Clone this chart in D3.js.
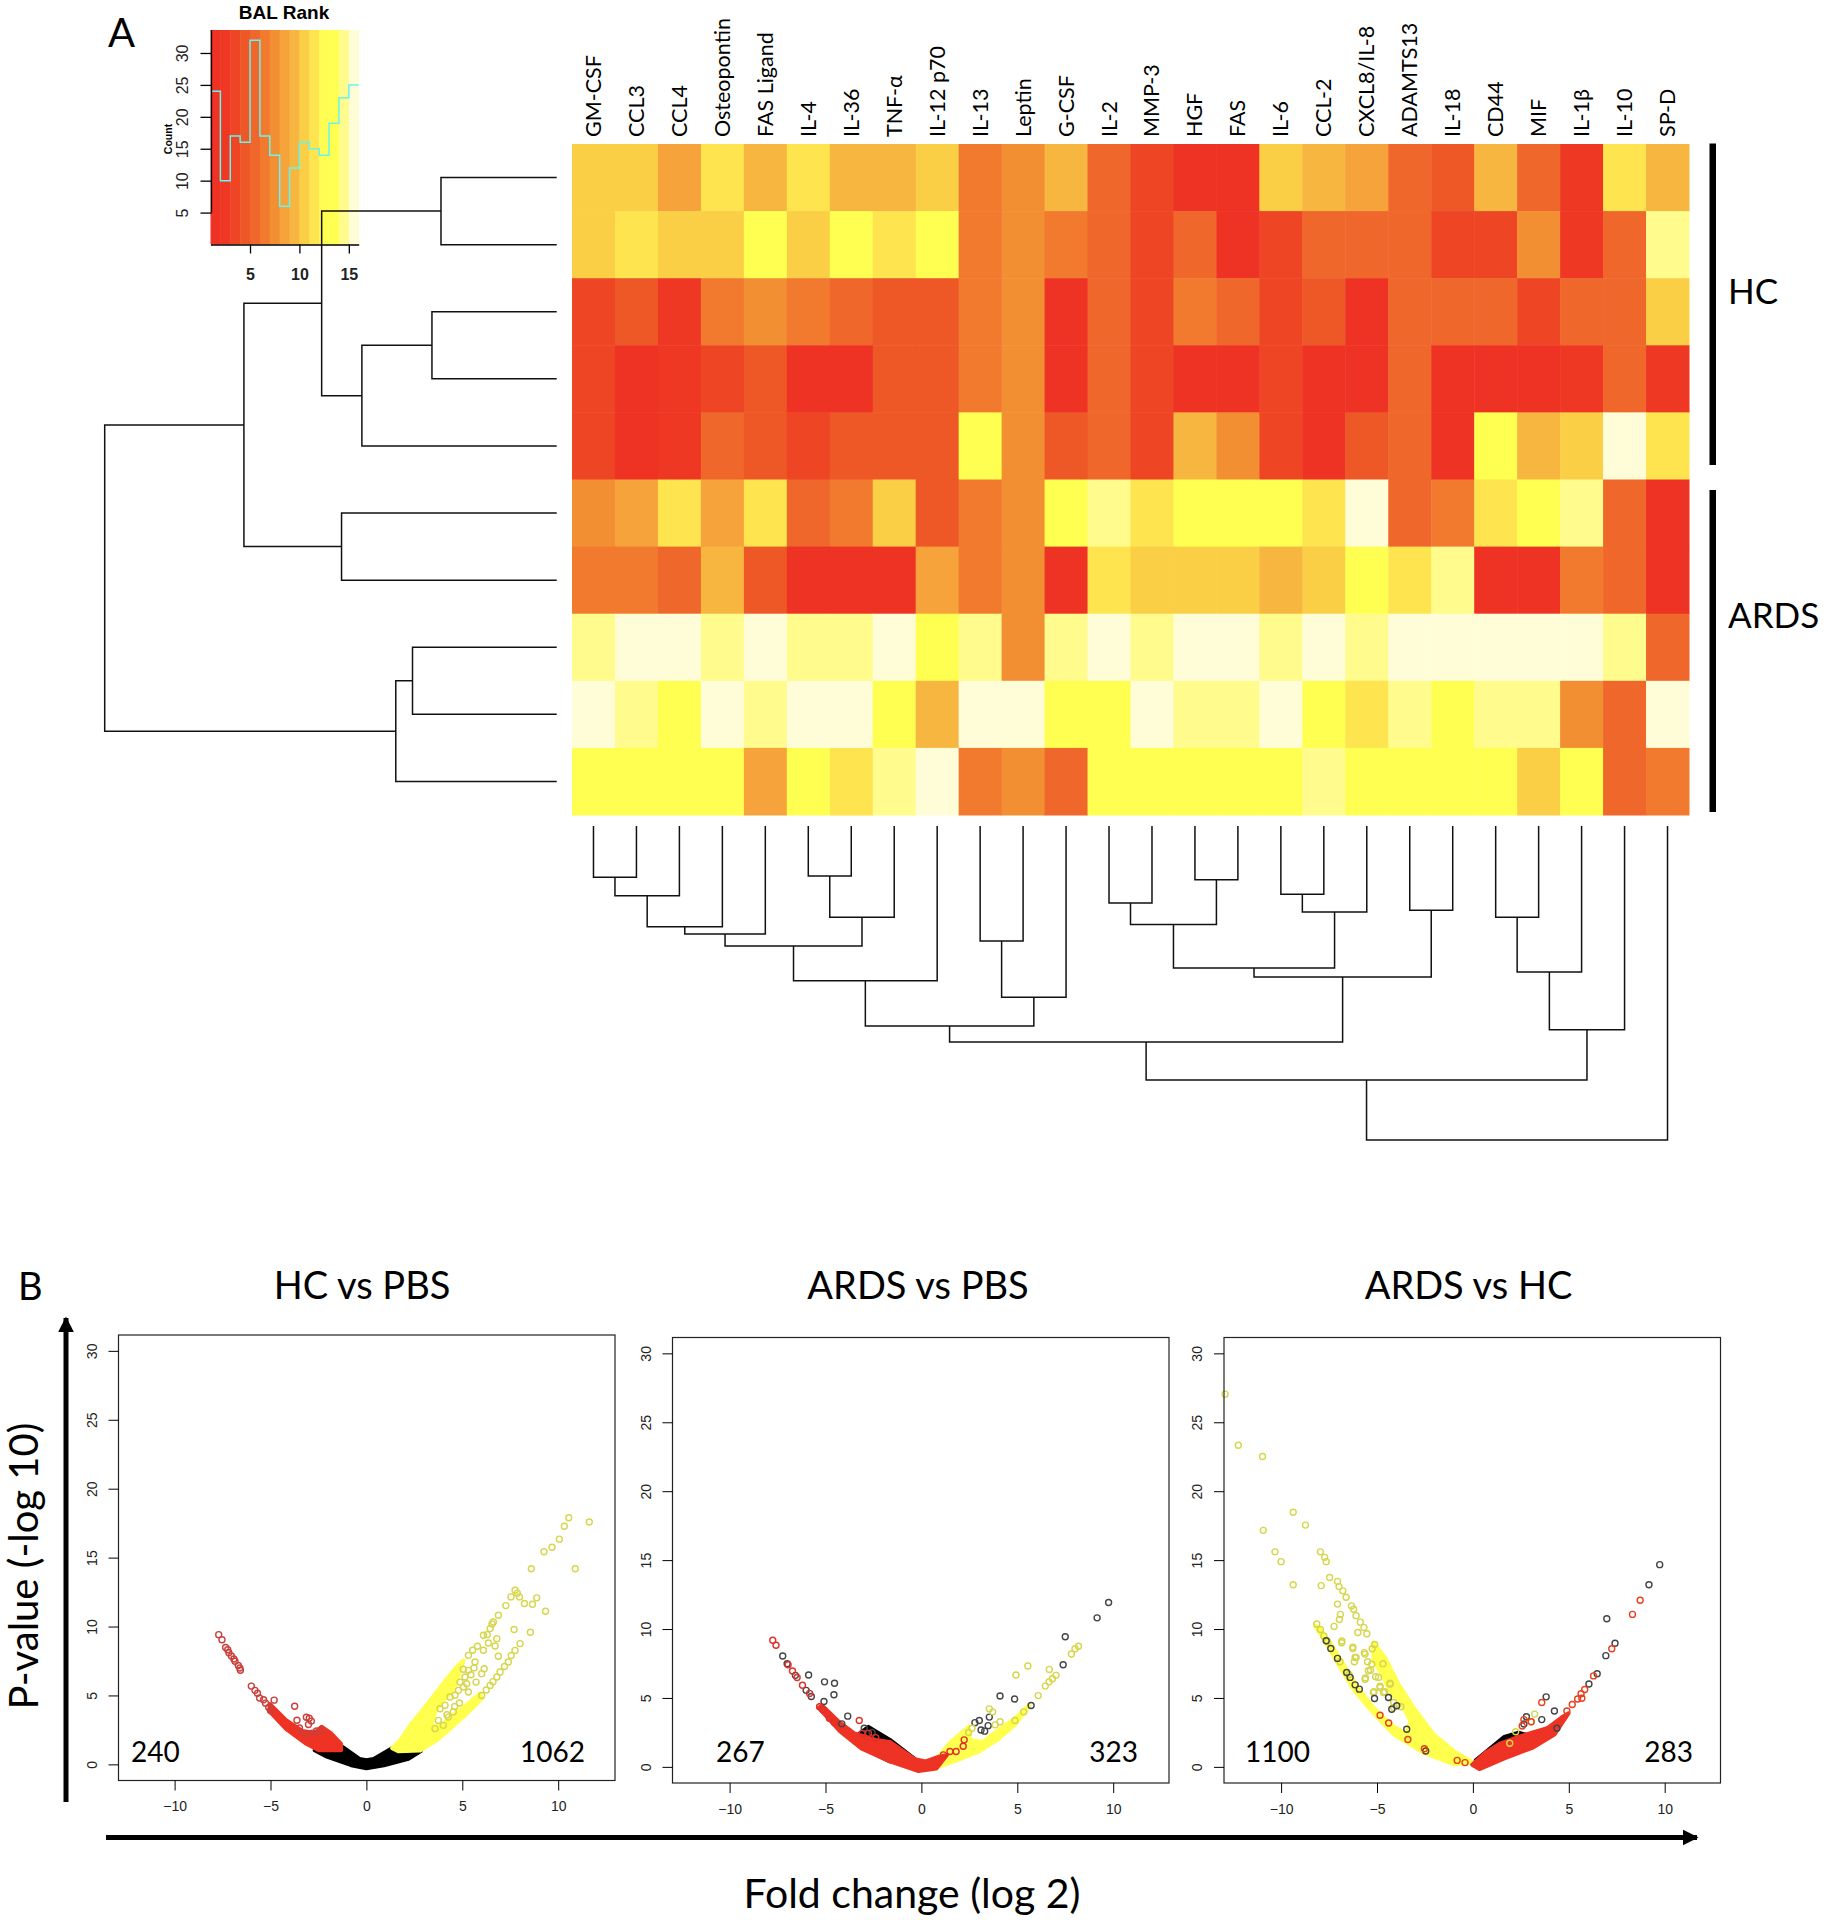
<!DOCTYPE html>
<html>
<head>
<meta charset="utf-8">
<script src="https://cdn.jsdelivr.net/npm/d3@7"></script>
<style>
  body { margin: 0; background: #fff; }
  svg { display: block; }
</style>
</head>
<body>
<div id="vis"></div>
<script>
// heatmap labels and values (colour key level of each cell, 0 = red ... 14 = pale)
const markers = ["GM-CSF", "CCL3", "CCL4", "Osteopontin", "FAS Ligand", "IL-4", "IL-36", "TNF-α", "IL-12 p70", "IL-13", "Leptin", "G-CSF", "IL-2", "MMP-3", "HGF", "FAS", "IL-6", "CCL-2", "CXCL8/IL-8", "ADAMTS13", "IL-18", "CD44", "MIF", "IL-1β", "IL-10", "SP-D"];
const rankRows = [
  [9, 9, 7, 10, 8, 10, 8, 8, 9, 5, 6, 8, 4, 2, 0, 0, 9, 8, 7, 4, 3, 8, 4, 1, 10, 8],
  [9, 10, 9, 9, 12, 9, 12, 10, 12, 5, 6, 5, 4, 2, 4, 0, 2, 4, 4, 4, 2, 2, 6, 1, 4, 13],
  [2, 3, 1, 5, 6, 5, 4, 3, 3, 5, 6, 0, 4, 2, 5, 4, 2, 3, 0, 4, 4, 4, 2, 4, 4, 9],
  [2, 0, 1, 2, 3, 0, 0, 3, 3, 5, 6, 0, 4, 2, 0, 0, 2, 0, 0, 4, 0, 0, 0, 1, 4, 1],
  [2, 0, 1, 4, 3, 2, 3, 3, 3, 12, 6, 3, 4, 2, 8, 6, 2, 0, 3, 4, 0, 12, 8, 9, 14, 10],
  [6, 7, 10, 7, 10, 4, 5, 9, 3, 5, 6, 12, 13, 10, 12, 12, 12, 10, 14, 4, 5, 10, 12, 13, 4, 0],
  [5, 5, 4, 8, 3, 0, 0, 0, 7, 5, 6, 0, 10, 9, 9, 9, 8, 9, 12, 10, 13, 0, 0, 5, 4, 0],
  [13, 14, 14, 13, 14, 13, 13, 14, 12, 13, 6, 13, 14, 13, 14, 14, 13, 14, 13, 14, 14, 14, 14, 14, 13, 4],
  [14, 13, 12, 14, 13, 14, 14, 12, 8, 14, 14, 12, 12, 14, 13, 13, 14, 12, 10, 13, 12, 13, 13, 6, 4, 14],
  [12, 12, 12, 12, 7, 12, 10, 13, 14, 5, 6, 4, 12, 12, 12, 12, 12, 13, 12, 12, 12, 12, 9, 12, 4, 5]
];
const rankColors = ["#ee3224", "#ee3824", "#ee4525", "#ee5726", "#ef672a", "#f17a2e", "#f38f33", "#f5a33a", "#f7b63f", "#fbcf45", "#fee44e", "#fffd53", "#ffff52", "#fffb8c", "#fffdd8"];

// colour key histogram
const rankCounts = [24, 10, 17, 16, 32, 17, 14, 6, 12, 16, 15, 14, 19, 23, 25];
const keyCountTicks = [5, 10, 15, 20, 25, 30];
const keyRankTicks = [5, 10, 15];

// dendrograms: [left, right, height], a plain number is a leaf
const rowTree = [[[[0, 1, 25.6], [[2, 3, 27.6], 4, 43.1], 52], [5, 6, 47.6], 69.2], [[7, 8, 31.9], 9, 35.6], 100];
const colTreeLeft = [[[[[[[0, 1, 16.3], 2, 22.2], 3, 32.1], 4, 34.4], [[5, 6, 15.9], 7, 29.1], 38.2], 8, 49.3], [[9, 10, 36.6], 11, 54.5], 63.7];
const colTreeMiddle = [[[[12, 13, 24.5], [14, 15, 17.1], 31.4], [[16, 17, 21.7], 18, 27.4], 45.2], [19, 20, 26.8], 48.1];
const colTreeRight = [[[21, 22, 29.1], 23, 46.5], 24, 64.9];
const colTree = [[[colTreeLeft, colTreeMiddle, 68.8], colTreeRight, 80.9], 25, 100];

// volcano plots, HC vs PBS
const hcRedDots = [[-7.7, 9.41], [-7.53, 9.04], [-7.34, 8.48], [-7.23, 8.32], [-7.17, 8.1], [-7.04, 7.86], [-6.91, 7.64], [-6.85, 7.48], [-6.68, 7.17], [-6.6, 6.99], [-6.57, 6.83], [-6, 5.68], [-5.81, 5.37], [-5.68, 5.16], [-5.57, 4.81], [-5.36, 4.69], [-5.26, 4.44], [-5.09, 4.13], [-5, 3.91], [-4.81, 4.66], [-3.74, 4.22], [-3.62, 3.2], [-3.49, 2.64], [-3.13, 3.42], [-2.98, 3.35], [-2.87, 3.14], [-3.02, 2.89], [-2.34, 2.52], [-3.23, 2.2], [-2.6, 2.42], [-2.81, 2.27]];
const hcYellowDots = [[11.62, 17.58], [10.55, 17.89], [10.32, 17.27], [10.06, 16.34], [9.68, 15.75], [9.26, 15.43], [8.6, 14.19], [10.89, 14.19], [3.84, 4.04], [4.1, 4.28], [4.36, 4.89], [4.62, 5.01], [4.85, 4.45], [4.53, 3.8], [4.27, 3.43], [3.75, 3.19], [4.01, 2.83], [3.58, 2.59], [4.8, 5.37], [5.06, 5.61], [5.32, 5.25], [5.23, 5.85], [4.88, 5.97], [5.14, 6.34], [5.32, 6.82], [5.72, 5.97], [6.01, 6.58], [6.14, 6.94], [5.61, 7], [5.66, 7.43], [5.32, 7.91], [5.54, 8.28], [5.79, 8.57], [6.1, 8.28], [6.36, 8.81], [6.1, 9.37], [6.45, 9.85], [6.62, 10.33], [6.88, 10.82], [6.8, 9.12], [6.71, 8.59], [6.88, 7.84], [7.7, 9.78], [8.55, 9.58], [8.01, 8.76], [7.75, 8.27], [7.4, 7.43], [6.97, 6.7], [6.8, 6.34], [6.45, 5.73], [6.01, 5], [7.27, 11.52], [7.75, 12.63], [7.54, 12.15], [7.98, 12.15], [8.24, 11.67], [8.66, 11.62], [8.88, 12.08], [9.34, 11.11], [7.87, 12.42], [6.55, 10.19], [6.3, 9.41], [7.55, 7.9], [7.2, 7.1], [6.6, 6], [6.25, 5.4], [5.45, 6.5], [5.05, 6.9], [4.6, 4.2], [4.2, 3.6]];
const hcBlackDots = [];
const hcBlackMass = [[-2.7, 1.02], [-1.32, 1.34], [-0.36, 0.4], [0, 0.31], [0.38, 0.4], [1.34, 1.18], [1.66, 0.96], [2.83, 0.96], [2.19, 0.4], [0.91, -0.06], [0, -0.28], [-0.79, -0.06], [-2.06, 0.56]];
const hcRedMass = [[-5.04, 3.82], [-4.19, 2.58], [-3.13, 1.49], [-2.49, 1.02], [-1.32, 1.02], [-1.32, 1.49], [-1.85, 2.27], [-2.34, 2.73], [-2.7, 2.27], [-3.34, 2.42], [-4.19, 3.2], [-5.04, 4.38]];
const hcYellowMass = [[1.34, 1.18], [1.75, 1.74], [2.4, 3.04], [3.06, 4.16], [4, 5.85], [4.62, 6.94], [5.06, 7.55], [4.62, 5.61], [4.19, 4.89], [3.67, 4.04], [3.32, 2.71], [4.01, 2.95], [4.71, 3.8], [5.4, 4.52], [5.93, 5.13], [6.01, 4.76], [5.23, 3.67], [4.36, 2.58], [3.66, 1.74], [2.8, 1.01], [1.66, 0.96]];

// ARDS vs PBS
const apRedDots = [[-7.75, 9.19], [-7.58, 8.82], [-6.95, 7.41], [-6.72, 6.95], [-6.48, 6.48], [-6.2, 5.92], [-5.83, 5.33], [-5.31, 4.36], [-5.14, 4.14], [-4.8, 3.52], [-4.53, 3.21], [-3.24, 3.36], [-3.09, 2.43], [-2.76, 2.43], [-2.38, 2.12], [1.15, 0.87], [1.49, 1.12], [1.81, 1.12], [2.18, 1.5], [2.23, 1.96]];
const apBlackDots = [[-7.23, 8.04], [-7, 7.48], [-5.88, 6.67], [-5.05, 6.17], [-4.53, 6.07], [-4.56, 5.23], [-5.08, 4.74], [-5.74, 5.11], [-6.01, 5.55], [-6.57, 6.64], [-3.84, 3.68], [-4.15, 3.12], [-2.98, 2.8], [-2.57, 2.49], [9.76, 11.93], [9.16, 10.81], [7.5, 9.44], [7.39, 7.41], [4.1, 5.14], [4.86, 4.92], [3.02, 3.36], [2.79, 3.21], [3.54, 3.61], [3.48, 2.99], [3.11, 2.68], [3.3, 2.59], [5.72, 4.45]];
const apYellowDots = [[8.19, 8.75], [8.01, 8.57], [7.82, 8.19], [5.55, 7.32], [4.93, 6.67], [6.67, 7.07], [7.02, 6.64], [6.83, 6.39], [6.65, 6.17], [6.46, 5.86], [6.09, 5.17], [3.54, 4.21], [3.72, 3.99], [4.1, 3.27], [3.85, 3.05], [2.64, 2.8], [2.46, 2.49], [4.88, 3.36], [5.34, 3.99]];
const apBlackMass = [[-2.76, 2.9], [-1.64, 1.96], [-0.34, 0.56], [0.04, 0.09], [-1.64, 0.4], [-2.76, 1.18], [-3.5, 2.12]];
const apRedMass = [[-5.36, 4.3], [-4.25, 2.59], [-3.13, 1.34], [-1.64, 0.4], [-0.15, -0.31], [0.78, -0.12], [1.34, 0.87], [0.88, 0.72], [0.22, 0.4], [-0.34, 0.56], [-1.64, 1.81], [-2.38, 1.96], [-2.76, 2.12], [-3.5, 2.43], [-4.25, 3.21], [-5.18, 4.45]];
const apYellowMass = [[0.78, 0.56], [1.53, 1.81], [2.46, 2.9], [2.55, 1.96], [3.2, 1.81], [3.95, 2.59], [4.88, 3.52], [5.62, 4.45], [4.88, 3.05], [3.95, 1.96], [3.02, 1.12], [1.71, 0.4], [0.6, -0.12]];

// ARDS vs HC
const ahYellowDots = [[-12.92, 27.04], [-12.23, 23.33], [-10.97, 22.52], [-9.37, 18.47], [-8.73, 17.54], [-10.93, 17.16], [-10.32, 15.6], [-10, 14.89], [-9.37, 13.21], [-7.95, 15.6], [-7.73, 15.2], [-7.65, 14.89], [-7.47, 13.74], [-7.91, 13.15], [-7.06, 13.46], [-6.98, 13.08], [-6.78, 12.77], [-6.61, 12.31], [-7.06, 11.81], [-6.33, 11.68], [-6.22, 11.43], [-6.09, 10.97], [-6.91, 11.06], [-6.96, 10.69], [-7.24, 10.19], [-5.87, 10.5], [-5.68, 10.12], [-6, 9.75], [-5.53, 9.66], [-6.83, 9.13], [-6.26, 8.69], [-5.66, 8.29], [-6.09, 7.94], [-6.18, 7.63], [-5.12, 8.88], [-5.25, 8.57], [-5.49, 7.63], [-5.34, 7.01], [-5.6, 6.45], [-5.07, 6.54], [-4.69, 7.48], [-4.32, 6.07], [-4.84, 5.86], [-5.16, 5.45], [-4.6, 5.45], [-8.14, 10.37], [-7.95, 9.97], [-7.77, 9.5], [-7.58, 9.1], [-6.93, 7.63], [-6.46, 6.7], [-4.13, 4.67], [-3.76, 4.36], [3.22, 3.83], [3.04, 3.27], [2.23, 2.55], [1.92, 1.71], [-5.62, 6.36], [-4.92, 6.49], [-5.27, 7.45], [-6.14, 7.94], [-5.62, 8.18], [-6.26, 8.59], [-6.84, 9], [-5.45, 6.97], [-4.84, 5.76], [-5.19, 5.4], [-4.32, 6], [-4.4, 5.03], [-4.66, 5.4], [-4.14, 4.31]];
const ahBlackDots = [[9.74, 14.67], [9.18, 13.21], [6.98, 10.75], [6.93, 8.07], [7.41, 8.97], [6.05, 6.01], [6.48, 6.76], [3.82, 5.08], [4.25, 4.05], [3.59, 3.43], [2.79, 3.64], [2.66, 3.11], [4.38, 2.8], [-7.41, 8.59], [-7.65, 9.15], [-7.06, 7.87], [-6.58, 6.85], [-6.4, 6.49], [-6.14, 5.95], [-5.92, 5.64], [-5.13, 4.96], [-4.4, 5.03], [-3.97, 4.43], [-3.45, 2.73], [-4.23, 4.18], [-2.46, 1.15]];
const ahRedDots = [[8.72, 12.09], [8.32, 11.06], [7.24, 8.57], [6.29, 6.6], [5.83, 5.61], [5.64, 5.3], [5.46, 4.92], [5.68, 4.98], [3.59, 4.67], [2.66, 3.43], [3.04, 3.27], [2.57, 2.96], [5.18, 4.52], [4.9, 4.05], [-4.84, 3.74], [-4.39, 3.18], [-3.39, 1.99], [-2.53, 1.31], [-0.82, 0.47], [-0.41, 0.31]];
const ahBlackMass = [[0.15, 0.47], [1.64, 2.18], [2.38, 2.49], [3.13, 2.18], [2.01, 1.25], [0.52, 0.16]];
const ahYellowMass = [[-5.19, 9.03], [-4.58, 7.94], [-3.88, 6], [-3.1, 4.31], [-2.06, 2.37], [-1.01, 1.16], [0.03, 0.31], [-1.01, 0.19], [-2.58, 1.04], [-4.14, 2.37], [-5.36, 4.19], [-6.23, 5.64], [-6.92, 7.21], [-7.62, 8.91], [-8.23, 10.24], [-7.97, 10], [-7.45, 9.03], [-6.75, 7.45], [-5.88, 5.52], [-5.19, 4.31], [-4.32, 3.1], [-3.45, 2.37], [-3.27, 3.34], [-3.62, 4.31], [-4.32, 5.52], [-4.75, 6.73], [-5.19, 7.7]];
const ahRedMass = [[-0.04, 0.16], [0.71, 1.09], [1.45, 1.71], [2.38, 2.18], [3.87, 2.8], [4.62, 3.58], [4.99, 3.89], [4.25, 2.34], [3.13, 1.4], [1.64, 0.62], [0.34, -0.16]];

const foldTicks = [-10, -5, 0, 5, 10];
const pvalueTicks = [0, 5, 10, 15, 20, 25, 30];

const panels = [
  { title: "HC vs PBS", titleX: 362, left: 118.5, top: 1335, zero: 366.4, counts: ["240", "1062"], countX: [131, 585],
    masses: [[hcBlackMass, "#000"], [hcRedMass, "#ee3224"], [hcYellowMass, "#ffff4d"]],
    dots: [[hcBlackDots, "#444"], [hcYellowDots, "#d6d64c"], [hcRedDots, "#c9403a"]] },
  { title: "ARDS vs PBS", titleX: 918, left: 672.5, top: 1337.5, zero: 921.4, counts: ["267", "323"], countX: [716, 1138],
    masses: [[apBlackMass, "#000"], [apYellowMass, "#ffff4d"], [apRedMass, "#ee3224"]],
    dots: [[apBlackDots, "#444"], [apYellowDots, "#d6d64c"], [apRedDots, "#e0302a"]] },
  { title: "ARDS vs HC", titleX: 1468.5, left: 1224, top: 1337.5, zero: 1472.9, counts: ["1100", "283"], countX: [1245, 1693],
    masses: [[ahBlackMass, "#000"], [ahYellowMass, "#ffff4d"], [ahRedMass, "#ee3224"]],
    dots: [[ahYellowDots, "#d6d64c"], [ahBlackDots, "#444"], [ahRedDots, "#e8401f"]] }
];

const uiFont = "Lato, sans-serif";
const plotFont = "'Liberation Sans', sans-serif";

const svg = d3.select("#vis")
  .append("svg")
  .attr("width", 1826)
  .attr("height", 1920)
  .attr("viewBox", [0, 0, 1826, 1920]);

function addText(str, x, y, size, opts = {}) {
  const t = svg.append("text")
    .attr("x", x).attr("y", y)
    .attr("font-family", opts.family || uiFont)
    .attr("font-size", size)
    .attr("text-anchor", opts.anchor || "start")
    .attr("font-weight", opts.weight || "normal")
    .attr("fill", "#000")
    .text(str);
  if (opts.rotate) t.attr("transform", `rotate(-90,${x},${y})`);
  return t;
}

// ---- heatmap
const colScale = d3.scaleBand().domain(d3.range(markers.length)).range([572, 1689]);
const rowScale = d3.scaleBand().domain(d3.range(rankRows.length)).range([144, 815]);

svg.append("g")
  .selectAll("g")
  .data(rankRows)
  .join("g")
  .attr("transform", (d, i) => `translate(0,${rowScale(i)})`)
  .selectAll("rect")
  .data(d => d)
  .join("rect")
  .attr("x", (d, i) => colScale(i))
  .attr("width", colScale.bandwidth() + 0.5)
  .attr("height", rowScale.bandwidth() + 0.5)
  .attr("fill", d => rankColors[d]);

svg.append("g")
  .selectAll("text")
  .data(markers)
  .join("text")
  .attr("transform", (d, i) => `translate(${colScale(i) + colScale.bandwidth() / 2 + 7.5},137) rotate(-90)`)
  .attr("font-family", uiFont)
  .attr("font-size", 21.5)
  .attr("fill", "#000")
  .text(d => d);

// ---- dendrograms
const rowHeight = d3.scaleLinear().domain([0, 100]).range([556.7, 104.7]);
const colHeight = d3.scaleLinear().domain([0, 100]).range([826, 1140]);

function treePath(node, leafPos, heightPos, horizontal, path) {
  if (typeof node === "number") return { at: leafPos(node), h: heightPos(0) };
  const a = treePath(node[0], leafPos, heightPos, horizontal, path);
  const b = treePath(node[1], leafPos, heightPos, horizontal, path);
  const h = heightPos(node[2]);
  if (horizontal) {
    path.moveTo(a.h, a.at);
    path.lineTo(h, a.at);
    path.lineTo(h, b.at);
    path.lineTo(b.h, b.at);
  } else {
    path.moveTo(a.at, a.h);
    path.lineTo(a.at, h);
    path.lineTo(b.at, h);
    path.lineTo(b.at, b.h);
  }
  return { at: (a.at + b.at) / 2, h: h };
}

function drawTree(tree, leafPos, heightPos, horizontal) {
  const path = d3.path();
  treePath(tree, leafPos, heightPos, horizontal, path);
  return svg.append("path")
    .attr("d", path.toString())
    .attr("fill", "none")
    .attr("stroke", "#111")
    .attr("stroke-width", 1.5);
}

// ---- colour key
const keyX = d3.scaleLinear().domain([1, 16]).range([210.5, 358.7]);
const keyY = d3.scaleLinear().domain([0, 33.6]).range([244.5, 30]);

svg.append("g")
  .selectAll("rect")
  .data(rankColors)
  .join("rect")
  .attr("x", (d, i) => keyX(i + 1))
  .attr("y", keyY(33.6))
  .attr("width", keyX(2) - keyX(1) + 0.5)
  .attr("height", keyY(0) - keyY(33.6))
  .attr("fill", d => d);

svg.append("path")
  .datum(rankCounts.concat(rankCounts[rankCounts.length - 1]))
  .attr("fill", "none")
  .attr("stroke", "#66f5f0")
  .attr("stroke-width", 1.5)
  .attr("d", d3.line().x((d, i) => keyX(i + 1)).y(d => keyY(d)).curve(d3.curveStepAfter));

svg.append("g")
  .attr("transform", "translate(211.5,0)")
  .call(d3.axisLeft(keyY).tickValues(keyCountTicks).tickSize(11).tickPadding(10).tickSizeOuter(0))
  .call(g => g.select(".domain").attr("d", `M0,${keyY(5)}V${keyY(33.6)}`).attr("stroke-width", 1.3))
  .call(g => g.selectAll(".tick line").attr("stroke-width", 1.3))
  .call(g => g.selectAll(".tick text")
    .attr("font-family", plotFont)
    .attr("font-size", 16)
    .attr("fill", "#222")
    .attr("text-anchor", "middle")
    .attr("dy", 0)
    .attr("x", 0)
    .attr("transform", "translate(-29,0) rotate(-90) translate(0,5)"));

svg.append("g")
  .attr("transform", "translate(0,244.5)")
  .call(d3.axisBottom(keyX).tickValues(keyRankTicks).tickSize(9).tickPadding(15).tickSizeOuter(0))
  .call(g => g.selectAll("line,.domain").attr("stroke-width", 1.3))
  .call(g => g.selectAll(".tick text")
    .attr("font-family", plotFont)
    .attr("font-size", 16)
    .attr("font-weight", "bold")
    .attr("fill", "#222"));

addText("BAL Rank", 284, 19, 19, { family: plotFont, weight: "bold", anchor: "middle" });
addText("Count", 172, 139, 10.5, { family: plotFont, weight: "bold", anchor: "middle", rotate: true });

// row dendrogram runs over the key, so it goes after it
drawTree(rowTree, i => rowScale(i) + rowScale.bandwidth() / 2, rowHeight, true);
drawTree(colTree, i => colScale(i) + colScale.bandwidth() / 2, colHeight, false);

// ---- group bars
svg.append("rect").attr("x", 1709.5).attr("y", 143.5).attr("width", 6.5).attr("height", 321.5).attr("fill", "#000");
svg.append("rect").attr("x", 1709.5).attr("y", 490).attr("width", 6.5).attr("height", 322).attr("fill", "#000");
addText("HC", 1728, 304, 35);
addText("ARDS", 1728, 628, 35);
addText("A", 108, 47, 40);
addText("B", 18, 1300, 38);

// ---- volcano panels
panels.forEach(p => {
  const w = 496.5, h = 445.5;
  const x = d3.scaleLinear().domain([-12.92, 12.92]).range([p.zero - 12.92 * 19.18, p.zero + 12.92 * 19.18]);
  const y = d3.scaleLinear().domain([-1.17, 31.15]).range([p.top + h, p.top]);
  const polygon = d3.line().x(d => x(d[0])).y(d => y(d[1])).curve(d3.curveLinearClosed);

  const g = svg.append("g");
  // the overplotted dots merge into solid masses, the round stroke stands in for their edge
  p.masses.forEach(([pts, col]) => {
    g.append("path")
      .attr("d", polygon(pts))
      .attr("fill", col)
      .attr("stroke", col)
      .attr("stroke-width", 4)
      .attr("stroke-linejoin", "round");
  });
  p.dots.forEach(([pts, col]) => {
    g.append("g").selectAll("circle")
      .data(pts)
      .join("circle")
      .attr("cx", d => x(d[0]))
      .attr("cy", d => y(d[1]))
      .attr("r", 3)
      .attr("fill", "none")
      .attr("stroke", col)
      .attr("stroke-width", 1.4);
  });

  g.append("rect")
    .attr("x", p.left).attr("y", p.top)
    .attr("width", w).attr("height", h)
    .attr("fill", "none")
    .attr("stroke", "#222")
    .attr("stroke-width", 1.2);

  g.append("g")
    .attr("transform", `translate(0,${p.top + h})`)
    .call(d3.axisBottom(x).tickValues(foldTicks).tickSize(10).tickPadding(11).tickSizeOuter(0))
    .call(a => a.select(".domain").remove())
    .call(a => a.selectAll(".tick text").attr("font-family", plotFont).attr("font-size", 14).attr("fill", "#222"));

  g.append("g")
    .attr("transform", `translate(${p.left},0)`)
    .call(d3.axisLeft(y).tickValues(pvalueTicks).tickSize(10).tickSizeOuter(0))
    .call(a => a.select(".domain").remove())
    .call(a => a.selectAll(".tick text")
      .attr("font-family", plotFont)
      .attr("font-size", 14)
      .attr("fill", "#222")
      .attr("text-anchor", "middle")
      .attr("dy", 0)
      .attr("x", 0)
      .attr("transform", "translate(-27,0) rotate(-90) translate(0,5)"));

  addText(p.title, p.titleX, 1299, 38, { anchor: "middle" });
  addText(p.counts[0], p.countX[0], 1762, 28);
  addText(p.counts[1], p.countX[1], 1762, 28, { anchor: "end" });
});

// ---- shared axis arrows
svg.append("defs").append("marker")
  .attr("id", "arrow")
  .attr("viewBox", "0 0 10 10")
  .attr("refX", 9).attr("refY", 5)
  .attr("markerWidth", 3.2).attr("markerHeight", 3.2)
  .attr("markerUnits", "strokeWidth")
  .attr("orient", "auto")
  .append("path")
  .attr("d", "M0,0L10,5L0,10Z")
  .attr("fill", "#000");

svg.append("line").attr("x1", 66).attr("y1", 1802).attr("x2", 66).attr("y2", 1318)
  .attr("stroke", "#000").attr("stroke-width", 5).attr("marker-end", "url(#arrow)");
svg.append("line").attr("x1", 106).attr("y1", 1837.5).attr("x2", 1697).attr("y2", 1837.5)
  .attr("stroke", "#000").attr("stroke-width", 5).attr("marker-end", "url(#arrow)");

addText("P-value (-log 10)", 38, 1566, 40, { anchor: "middle", rotate: true });
addText("Fold change (log 2)", 912, 1908, 41, { anchor: "middle" });
</script>
</body>
</html>
